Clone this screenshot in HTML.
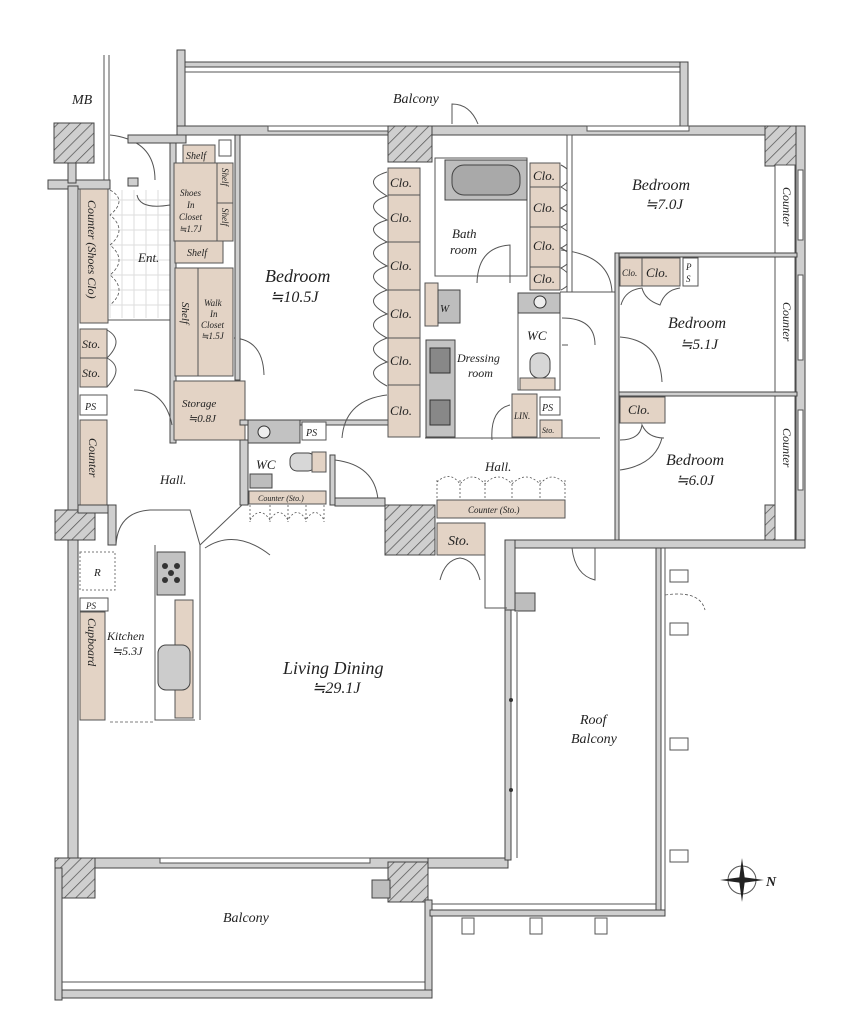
<!DOCTYPE html>
<html><head><meta charset="utf-8"><style>
html,body{margin:0;padding:0;background:#fff}
svg{display:block}
text{font-family:"Liberation Serif",serif;font-style:italic;fill:#222}
.w{fill:#cfcfcf;stroke:#444;stroke-width:1}
.t{fill:#e3d3c5;stroke:#555;stroke-width:1}
.l{fill:none;stroke:#555;stroke-width:1}
.d{fill:none;stroke:#555;stroke-width:0.8}
.g{fill:#bdbdbd;stroke:#444;stroke-width:1}
.h{fill:#c2c2c2;stroke:#444;stroke-width:1}
</style></head><body>
<svg width="857" height="1024" viewBox="0 0 857 1024" xmlns="http://www.w3.org/2000/svg">
<defs>
<pattern id="hat" width="8" height="8" patternUnits="userSpaceOnUse" patternTransform="rotate(45)">
<rect width="8" height="8" fill="#cfcfcf"/><line x1="0" y1="0" x2="0" y2="8" stroke="#555" stroke-width="1.5"/></pattern>
</defs>

<!-- top balcony -->
<rect class="w" x="177" y="50" width="8" height="88"/>
<rect class="w" x="185" y="62" width="500" height="5"/>
<line class="l" x1="185" y1="72" x2="685" y2="72"/>
<rect class="w" x="680" y="62" width="8" height="64"/>
<text x="393" y="103" font-size="14">Balcony</text>
<path class="l" d="M452 124 V104 Q470 104 478 124"/>

<!-- MB -->
<text x="72" y="104" font-size="14">MB</text>
<rect x="54" y="123" width="40" height="40" fill="url(#hat)" stroke="#444"/>
<rect class="w" x="48" y="180" width="62" height="9"/>
<rect class="w" x="68" y="163" width="8" height="20"/>
<line class="l" x1="104" y1="55" x2="104" y2="180"/><line class="l" x1="109" y1="55" x2="109" y2="180"/>
<path class="l" d="M110 135 Q155 140 155 180"/>

<!-- main top wall -->
<rect class="w" x="177" y="126" width="628" height="9"/>
<rect class="w" x="128" y="178" width="10" height="8"/>
<rect class="w" x="128" y="135" width="58" height="8"/>
<rect fill="#fff" stroke="#555" x="268" y="126" width="122" height="5"/>
<rect fill="#fff" stroke="#555" x="587" y="126" width="102" height="5"/>
<rect x="388" y="126" width="44" height="36" fill="url(#hat)" stroke="#444"/>
<rect x="765" y="126" width="40" height="40" fill="url(#hat)" stroke="#444"/>
<rect x="765" y="505" width="40" height="40" fill="url(#hat)" stroke="#444"/>

<!-- left outer wall -->
<rect class="w" x="68" y="186" width="10" height="680"/>
<rect x="55" y="510" width="40" height="30" fill="url(#hat)" stroke="#444"/>
<!-- right outer wall -->
<rect class="w" x="796" y="126" width="9" height="420"/>
<rect fill="#fff" stroke="#555" x="798" y="170" width="5" height="70"/>
<rect fill="#fff" stroke="#555" x="798" y="275" width="5" height="85"/>
<rect fill="#fff" stroke="#555" x="798" y="410" width="5" height="80"/>

<!-- entrance -->
<g stroke="#ddd" stroke-width="1">
<path d="M110 190 V318 M122 190 V318 M134 190 V318 M146 190 V318 M158 190 V318 M110 200 H170 M110 215 H170 M110 230 H170 M110 245 H170 M110 260 H170 M110 275 H170 M110 290 H170 M110 305 H170"/></g>
<line class="l" x1="108" y1="320" x2="170" y2="320"/>
<path class="d" stroke-dasharray="3,2" d="M110 190 Q128 200 110 215 Q128 230 110 245 Q128 260 110 275 Q128 290 110 305"/>
<text x="138" y="262" font-size="13">Ent.</text>
<path class="l" d="M170 205 Q140 210 137 195"/>

<!-- left tan column -->
<rect class="t" x="80" y="189" width="28" height="134"/>
<text font-size="12" transform="translate(88,200) rotate(90)">Counter (Shoes Clo)</text>
<rect class="t" x="80" y="329" width="27" height="29"/><text x="82" y="348" font-size="12">Sto.</text>
<rect class="t" x="80" y="358" width="27" height="29"/><text x="82" y="377" font-size="12">Sto.</text>
<path class="l" d="M107 330 Q125 340 107 358 Q125 368 107 387"/>
<rect x="80" y="395" width="27" height="20" fill="#fff" stroke="#555"/><text x="85" y="410" font-size="10">PS</text>
<rect class="t" x="80" y="420" width="27" height="85"/>
<text font-size="12" transform="translate(89,438) rotate(90)">Counter</text>

<!-- shoes closet -->
<rect class="w" x="170" y="143" width="6" height="300"/>
<rect class="t" x="183" y="145" width="32" height="20"/><text x="186" y="159" font-size="10">Shelf</text>
<rect class="t" x="174" y="163" width="43" height="78"/>
<text x="180" y="196" font-size="9">Shoes</text><text x="187" y="208" font-size="9">In</text><text x="179" y="220" font-size="9">Closet</text><text x="179" y="232" font-size="9">≒1.7J</text>
<rect class="t" x="217" y="163" width="16" height="40"/><text font-size="9" transform="translate(222,168) rotate(90)">Shelf</text>
<rect class="t" x="217" y="203" width="16" height="38"/><text font-size="9" transform="translate(222,208) rotate(90)">Shelf</text>
<rect class="t" x="175" y="241" width="48" height="22"/><text x="187" y="256" font-size="10">Shelf</text>
<rect x="219" y="140" width="12" height="16" fill="#fff" stroke="#555"/>
<!-- walk-in -->
<rect class="t" x="175" y="268" width="23" height="108"/><text font-size="11" transform="translate(182,302) rotate(90)">Shelf</text>
<rect class="t" x="198" y="268" width="35" height="108"/>
<text x="204" y="306" font-size="9">Walk</text><text x="210" y="317" font-size="9">In</text><text x="201" y="328" font-size="9">Closet</text><text x="201" y="339" font-size="9">≒1.5J</text>
<path class="l" d="M234 338 Q263 340 264 375"/>
<rect class="t" x="174" y="381" width="71" height="59"/><text x="182" y="407" font-size="11">Storage</text><text x="188" y="422" font-size="11">≒0.8J</text>
<path class="l" d="M134 390 Q165 390 172 425"/>

<!-- bedroom 10.5 -->
<rect class="w" x="235" y="135" width="5" height="245"/>
<rect class="w" x="240" y="420" width="150" height="5"/>
<text x="265" y="282" font-size="18">Bedroom</text><text x="270" y="302" font-size="16">≒10.5J</text>
<rect class="t" x="388" y="168" width="32" height="27"/><text x="390" y="187" font-size="13">Clo.</text>
<rect class="t" x="388" y="195" width="32" height="47"/><text x="390" y="222" font-size="13">Clo.</text>
<rect class="t" x="388" y="242" width="32" height="48"/><text x="390" y="270" font-size="13">Clo.</text>
<rect class="t" x="388" y="290" width="32" height="48"/><text x="390" y="318" font-size="13">Clo.</text>
<rect class="t" x="388" y="338" width="32" height="47"/><text x="390" y="365" font-size="13">Clo.</text>
<rect class="t" x="388" y="385" width="32" height="52"/><text x="390" y="415" font-size="13">Clo.</text>
<path class="l" d="M387 172 Q360 180 387 196 Q360 205 387 220 Q360 228 387 242 Q360 252 387 266 Q360 275 387 290 Q360 300 387 314 Q360 324 387 338 Q360 348 387 362 Q360 372 387 386"/>
<path class="l" d="M342 438 Q345 400 387 395"/>

<!-- bathroom -->
<rect class="l" x="435" y="158" width="92" height="118"/>
<rect class="g" x="445" y="160" width="82" height="40"/>
<rect fill="#a9a9a9" stroke="#444" x="452" y="165" width="68" height="30" rx="12"/>
<text x="452" y="238" font-size="13">Bath</text><text x="450" y="254" font-size="13">room</text>
<path class="l" d="M477 283 Q478 247 510 245 V283"/>
<rect class="t" x="425" y="283" width="13" height="43"/>
<rect class="g" x="438" y="290" width="22" height="33"/><text x="440" y="312" font-size="11">W</text>
<rect class="h" x="426" y="340" width="29" height="97"/>
<rect fill="#888" stroke="#333" x="430" y="348" width="20" height="25"/>
<rect fill="#888" stroke="#333" x="430" y="400" width="20" height="25"/>
<text x="457" y="362" font-size="12">Dressing</text><text x="468" y="377" font-size="12">room</text>
<path class="l" d="M492 440 Q490 410 510 405"/>
<rect class="t" x="512" y="394" width="25" height="43"/><text x="514" y="419" font-size="9">LIN.</text>
<rect x="540" y="397" width="20" height="18" fill="#fff" stroke="#555"/><text x="542" y="411" font-size="10">PS</text>
<rect class="t" x="540" y="420" width="22" height="18"/><text x="542" y="433" font-size="8">Sto.</text>
<rect class="l" x="518" y="293" width="42" height="97"/>
<rect class="h" x="518" y="293" width="42" height="20"/><circle cx="540" cy="302" r="6" fill="#eee" stroke="#333"/>
<text x="527" y="340" font-size="13">WC</text>
<rect fill="#d7d7d7" stroke="#444" x="530" y="353" width="20" height="25" rx="9"/>
<rect class="t" x="520" y="378" width="35" height="12"/>
<path class="l" d="M562 318 Q595 318 595 345 M562 345 H568"/>
<line class="l" x1="425" y1="438" x2="600" y2="438"/>

<!-- right closets -->
<rect class="t" x="530" y="163" width="30" height="24"/><text x="533" y="180" font-size="13">Clo.</text>
<rect class="t" x="530" y="187" width="30" height="40"/><text x="533" y="212" font-size="13">Clo.</text>
<rect class="t" x="530" y="227" width="30" height="40"/><text x="533" y="250" font-size="13">Clo.</text>
<rect class="t" x="530" y="267" width="30" height="23"/><text x="533" y="283" font-size="13">Clo.</text>
<path class="l" d="M561 165 Q580 175 561 187 Q580 198 561 208 Q580 218 561 227 Q580 238 561 248 Q580 258 561 268 Q580 280 561 290"/>
<path class="l" d="M561 250 Q610 255 612 292"/>
<line class="l" x1="560" y1="292" x2="615" y2="292"/>

<!-- bedroom 7.0 / 5.1 / 6.0 -->
<rect x="567" y="135" width="5" height="157" fill="#fff" stroke="#555"/>
<text x="632" y="190" font-size="16">Bedroom</text><text x="645" y="209" font-size="15">≒7.0J</text>
<rect x="775" y="165" width="20" height="380" fill="#fff" stroke="#555"/>
<text font-size="12" transform="translate(783,187) rotate(90)">Counter</text>
<text font-size="12" transform="translate(783,302) rotate(90)">Counter</text>
<text font-size="12" transform="translate(783,428) rotate(90)">Counter</text>
<rect class="w" x="615" y="253" width="182" height="4"/>
<rect class="w" x="615" y="392" width="182" height="4"/>
<rect class="w" x="615" y="253" width="4" height="292"/>
<rect class="t" x="620" y="258" width="22" height="28"/><text x="622" y="276" font-size="9">Clo.</text>
<rect class="t" x="642" y="258" width="38" height="28"/><text x="646" y="277" font-size="13">Clo.</text>
<rect x="683" y="258" width="15" height="28" fill="#fff" stroke="#555"/><text x="686" y="270" font-size="9">P</text><text x="686" y="282" font-size="9">S</text>
<path class="l" d="M621 305 Q625 290 642 288 Q645 300 660 305 Q665 290 680 288"/>
<path class="l" d="M620 337 Q660 340 662 382"/>
<text x="668" y="328" font-size="16">Bedroom</text><text x="680" y="349" font-size="15">≒5.1J</text>
<rect class="t" x="620" y="397" width="45" height="26"/><text x="628" y="414" font-size="13">Clo.</text>
<path class="l" d="M620 440 Q640 440 642 425 Q648 438 664 438 M620 470 Q655 465 662 438"/>
<text x="666" y="465" font-size="16">Bedroom</text><text x="676" y="485" font-size="15">≒6.0J</text>

<!-- lower bedroom wall -->
<rect class="w" x="505" y="540" width="300" height="8"/>
<rect class="w" x="505" y="540" width="10" height="70"/>
<path class="l" d="M572 548 Q575 575 595 580 V548"/>

<!-- hall -->
<text x="160" y="484" font-size="13">Hall.</text>
<text x="485" y="471" font-size="13">Hall.</text>
<rect class="w" x="330" y="455" width="5" height="50"/>
<rect class="w" x="240" y="440" width="8" height="65"/>
<path class="l" d="M335 460 Q375 465 378 500"/>
<rect class="h" x="248" y="420" width="52" height="23"/><circle cx="264" cy="432" r="6" fill="#eee" stroke="#333"/>
<rect x="302" y="422" width="24" height="18" fill="#fff" stroke="#555"/><text x="306" y="436" font-size="10">PS</text>
<text x="256" y="469" font-size="13">WC</text>
<rect fill="#d7d7d7" stroke="#444" x="290" y="453" width="25" height="18" rx="7"/>
<rect class="t" x="312" y="452" width="14" height="20"/>
<rect class="g" x="250" y="474" width="22" height="14"/>
<rect class="t" x="249" y="491" width="77" height="13"/><text x="258" y="501" font-size="8">Counter (Sto.)</text>
<path class="d" stroke-dasharray="2,2" d="M250 505 V522 M270 505 V522 M288 505 V522 M306 505 V522 M324 505 V522 M250 520 Q260 505 270 520 Q279 505 288 520 Q297 505 306 520 Q315 505 324 520"/>
<rect x="385" y="505" width="50" height="50" fill="url(#hat)" stroke="#444"/>
<rect class="w" x="335" y="498" width="50" height="8"/>
<rect class="t" x="437" y="500" width="128" height="18"/><text x="468" y="513" font-size="9">Counter (Sto.)</text>
<path class="d" stroke-dasharray="2,2" d="M437 498 V478 M460 498 V478 M485 498 V478 M512 498 V478 M540 498 V478 M565 498 V478 M437 482 Q450 470 460 484 Q472 470 485 484 Q498 470 512 484 Q526 470 540 484 Q552 470 565 484"/>
<rect class="t" x="437" y="523" width="48" height="32"/><text x="448" y="545" font-size="14">Sto.</text>
<path class="l" d="M440 580 Q445 560 460 558 Q475 560 480 580"/>
<path class="l" d="M485 555 V608 H507"/>
<rect class="g" x="515" y="593" width="20" height="18"/>

<!-- kitchen -->
<rect class="w" x="78" y="505" width="30" height="8"/>
<rect class="w" x="108" y="505" width="8" height="40"/>
<path class="l" d="M116 545 Q118 512 150 510"/>
<path class="l" d="M150 510 H190 L200 545 V720"/>
<path class="l" d="M155 545 V720 H195"/>
<path class="l" d="M200 545 L242 505 M205 548 Q235 528 270 555"/>
<rect class="h" x="157" y="552" width="28" height="43"/>
<g fill="#333"><circle cx="165" cy="566" r="3"/><circle cx="177" cy="566" r="3"/><circle cx="165" cy="580" r="3"/><circle cx="177" cy="580" r="3"/><circle cx="171" cy="573" r="3"/></g>
<rect class="t" x="175" y="600" width="18" height="118"/>
<rect fill="#ccc" stroke="#444" x="158" y="645" width="32" height="45" rx="8"/>
<rect x="80" y="552" width="35" height="38" fill="#fff" stroke="#777" stroke-dasharray="2,2"/><text x="94" y="576" font-size="11">R</text>
<rect x="80" y="598" width="28" height="13" fill="#fff" stroke="#555"/><text x="86" y="609" font-size="9">PS</text>
<rect class="t" x="80" y="612" width="25" height="108"/><text font-size="12" transform="translate(88,618) rotate(90)">Cupboard</text>
<text x="107" y="640" font-size="12">Kitchen</text><text x="112" y="655" font-size="12">≒5.3J</text>
<line class="d" stroke-dasharray="3,2" x1="110" y1="722" x2="155" y2="722"/>

<text x="283" y="674" font-size="18">Living Dining</text><text x="312" y="693" font-size="16">≒29.1J</text>

<!-- living bottom -->
<rect class="w" x="55" y="858" width="375" height="10"/>
<rect fill="#fff" stroke="#555" x="160" y="858" width="210" height="5"/>
<rect x="55" y="858" width="40" height="40" fill="url(#hat)" stroke="#444"/>
<rect x="388" y="862" width="40" height="40" fill="url(#hat)" stroke="#444"/>
<rect class="g" x="372" y="880" width="18" height="18"/>
<rect class="w" x="428" y="858" width="80" height="10"/>
<!-- lower balcony -->
<rect class="w" x="55" y="868" width="7" height="132"/>
<rect class="w" x="62" y="990" width="370" height="8"/>
<line class="l" x1="62" y1="982" x2="425" y2="982"/>
<rect class="w" x="425" y="900" width="7" height="90"/>
<text x="223" y="922" font-size="14">Balcony</text>

<!-- roof balcony -->
<rect class="w" x="505" y="610" width="6" height="250"/>
<line class="l" x1="517" y1="612" x2="517" y2="858"/>
<g fill="#333"><circle cx="511" cy="700" r="2"/><circle cx="511" cy="790" r="2"/></g>
<rect class="w" x="656" y="548" width="5" height="365"/>
<line class="l" x1="665" y1="548" x2="665" y2="913"/>
<rect class="w" x="430" y="910" width="235" height="6"/>
<line class="l" x1="432" y1="904" x2="656" y2="904"/>
<g class="l">
<rect x="670" y="570" width="18" height="12"/><rect x="670" y="623" width="18" height="12"/>
<rect x="670" y="738" width="18" height="12"/><rect x="670" y="850" width="18" height="12"/>
<rect x="462" y="918" width="12" height="16"/><rect x="530" y="918" width="12" height="16"/><rect x="595" y="918" width="12" height="16"/></g>
<path class="d" stroke-dasharray="3,2" d="M665 595 Q700 590 705 610"/>
<text x="580" y="724" font-size="14">Roof</text><text x="571" y="743" font-size="14">Balcony</text>

<!-- compass -->
<g transform="translate(742,880)">
<circle r="14" fill="none" stroke="#555"/>
<path d="M0 -22 L3 0 L0 22 L-3 0Z" fill="#222"/><path d="M-22 0 L0 -3 L22 0 L0 3Z" fill="#222"/>
<text x="24" y="6" font-size="14" font-style="normal" font-weight="bold">N</text>
</g>
</svg>
</body></html>
